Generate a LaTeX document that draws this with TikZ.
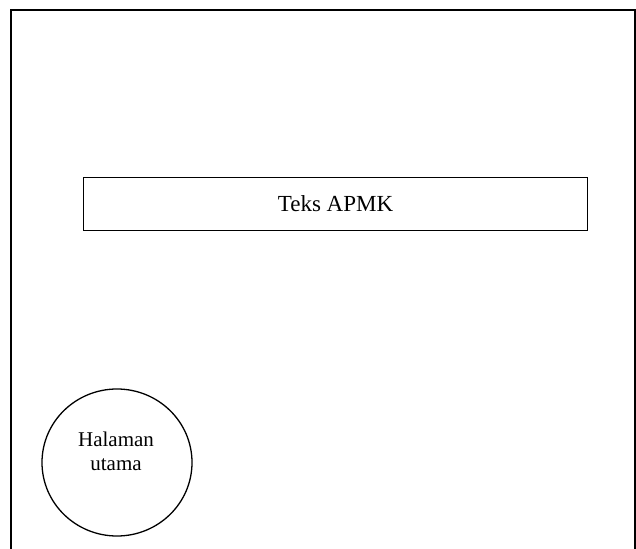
\documentclass[tikz,border=0pt]{standalone}
\usepackage{fontspec}
\usetikzlibrary{shapes.geometric}
\setmainfont{Liberation Serif}
\begin{document}
\begin{tikzpicture}[x=1pt,y=-1pt,
  frame/.style={draw=black,line width=1.4pt},
  textbox/.style={draw=black,line width=1.4pt,minimum width=504pt,minimum height=53pt,inner sep=0pt,font=\fontsize{23}{26}\selectfont},
  menucircle/.style={draw=black,line width=1.3pt,shape=ellipse,minimum width=150pt,minimum height=147pt,inner sep=0pt},
  menulabel/.style={align=center,inner sep=0pt,font=\fontsize{21}{24}\selectfont}]
  \useasboundingbox (0,0) rectangle (636,548);
  % page frame, open at the bottom
  \draw[frame] (11,560) -- (11,10) -- (635,10) -- (635,560);
  % title box
  \node[textbox] (title) at (335.5,204) {Teks APMK};
  % home button and its caption
  \node[menucircle] (home) at (117,462.5) {};
  \node[menulabel] (homelabel) at (116,451) {Halaman\\utama};
\end{tikzpicture}
\end{document}
